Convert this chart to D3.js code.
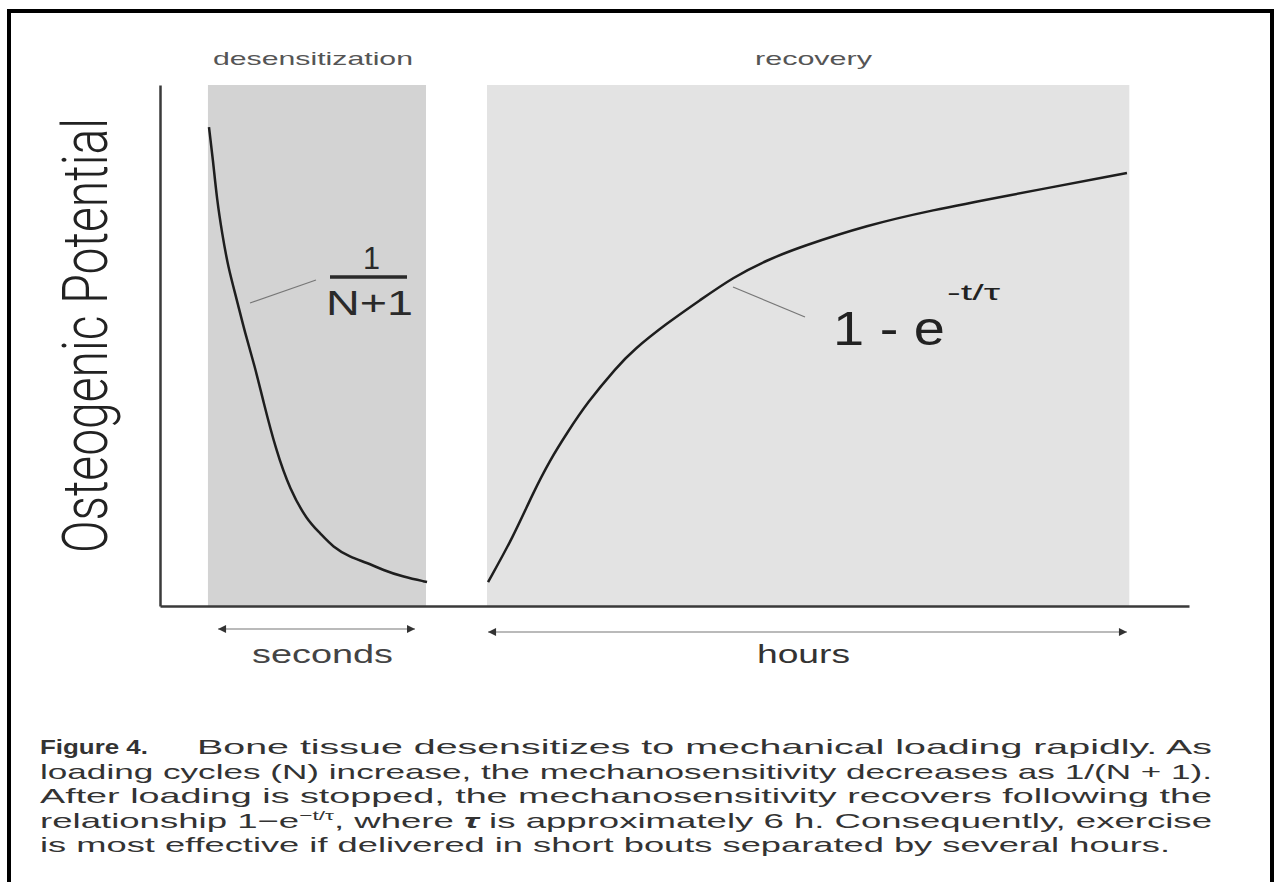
<!DOCTYPE html>
<html>
<head>
<meta charset="utf-8">
<script src="https://cdn.jsdelivr.net/npm/d3@7"></script>
<style>
  body { margin: 0; background: #fff; }
  svg { display: block; }
</style>
</head>
<body>
<div id="chart"></div>
<script>
// phases along the time axis (arbitrary units 0-100, no ticks in the figure)
const phases = ["desensitization", "recovery"]
const phaseStart = [4.66, 31.78]
const phaseEnd = [25.85, 94.2]
const phaseUnits = ["seconds", "hours"]
const arrowStart = [5.64, 31.88]
const arrowEnd = [24.78, 93.97]

// osteogenic potential while loading: 1/(N+1)
const desensT = [4.76, 5.15, 5.54, 6.03, 6.61, 7.48, 8.26, 9.23, 10.01, 11.27, 12.63, 14.29, 15.55, 16.81, 18.46, 20.12, 21.67, 23.62, 25.95]
const desensP = [91.9, 85.6, 77.9, 71.6, 65.1, 58.7, 52.4, 45.9, 39.5, 29.9, 22.3, 16.5, 14.0, 11.3, 9.4, 8.3, 6.9, 5.6, 4.6]

// recovery after loading stops: 1 - e^(-t/tau)
const recoveryT = [31.88, 34.31, 36.25, 37.9, 39.55, 41.5, 44.41, 45.97, 49.27, 52.48, 55.69, 58.99, 62.2, 68.71, 75.12, 81.63, 93.97]
const recoveryP = [4.6, 13.2, 21.7, 28.0, 33.2, 39.0, 45.9, 49.1, 54.3, 58.7, 63.1, 66.4, 68.9, 73.1, 76.0, 78.5, 83.1]

const yTitle = "Osteogenic Potential"
const captionLines = [
  "Bone tissue desensitizes to mechanical loading rapidly. As",
  "loading cycles (N) increase, the mechanosensitivity decreases as 1/(N + 1).",
  "After loading is stopped, the mechanosensitivity recovers following the",
  ["relationship 1\u2212e", "\u2212t/τ", ", where ", "τ", " is approximately 6 h. Consequently, exercise"],
  "is most effective if delivered in short bouts separated by several hours."
]

const W = 1274, H = 882
const bandFill = ["#d3d3d3", "#e3e3e3"]

const svg = d3.select("#chart").append("svg")
  .attr("width", W)
  .attr("height", H)

const x = d3.scaleLinear().domain([0, 100]).range([160, 1189])
const y = d3.scaleLinear().domain([0, 100]).range([606, 85])

// frame around the figure
svg.append("path")
  .attr("d", "M9," + H + "V11H1272V" + H)
  .attr("fill", "none")
  .attr("stroke", "#000")
  .attr("stroke-width", 4)

// helper for stretched text (the source figure is scaled horizontally)
function txt(g, s, px, py, size, len, opt) {
  opt = opt || {}
  return g.append("text")
    .attr("x", px)
    .attr("y", py)
    .attr("font-family", opt.family || "'Liberation Sans', Arial, sans-serif")
    .attr("font-size", size)
    .attr("font-weight", opt.weight || "normal")
    .attr("fill", opt.fill || "#222")
    .attr("textLength", len)
    .attr("lengthAdjust", "spacingAndGlyphs")
    .text(s)
}

// shaded phases
svg.append("g")
  .selectAll("rect")
  .data(phases)
  .join("rect")
  .attr("x", (d, i) => x(phaseStart[i]))
  .attr("width", (d, i) => x(phaseEnd[i]) - x(phaseStart[i]))
  .attr("y", y(100))
  .attr("height", y(0) - y(100))
  .attr("fill", (d, i) => bandFill[i])

// axes, no ticks
svg.append("g")
  .attr("transform", "translate(0," + y(0) + ")")
  .call(d3.axisBottom(x).ticks(0).tickSizeOuter(0))
svg.append("g")
  .attr("transform", "translate(" + x(0) + ",0)")
  .call(d3.axisLeft(y).ticks(0).tickSizeOuter(0))
svg.selectAll(".domain")
  .attr("stroke", "#3a3a3a")
  .attr("stroke-width", 2.5)

// curves
const line = d3.line()
  .x(d => x(d[0]))
  .y(d => y(d[1]))
  .curve(d3.curveBasis)

svg.append("path")
  .datum(d3.zip(desensT, desensP))
  .attr("d", line)
  .attr("fill", "none")
  .attr("stroke", "#1e1e1e")
  .attr("stroke-width", 2.5)

svg.append("path")
  .datum(d3.zip(recoveryT, recoveryP))
  .attr("d", line)
  .attr("fill", "none")
  .attr("stroke", "#1e1e1e")
  .attr("stroke-width", 2.5)

// phase names on top
txt(svg, phases[0], 213, 65, 19, 200, {fill: "#555"})
txt(svg, phases[1], 755, 65, 19, 117, {fill: "#555"})

// time-scale arrows
svg.append("defs").append("marker")
  .attr("id", "head")
  .attr("viewBox", "0 0 10 10")
  .attr("refX", 10)
  .attr("refY", 5)
  .attr("markerUnits", "userSpaceOnUse")
  .attr("markerWidth", 13)
  .attr("markerHeight", 8)
  .attr("orient", "auto-start-reverse")
  .append("path")
  .attr("d", "M0,0L10,5L0,10z")
  .attr("fill", "#333")

const arrowY = [629, 632]
svg.append("g")
  .selectAll("line")
  .data(phaseUnits)
  .join("line")
  .attr("x1", (d, i) => x(arrowStart[i]))
  .attr("x2", (d, i) => x(arrowEnd[i]))
  .attr("y1", (d, i) => arrowY[i])
  .attr("y2", (d, i) => arrowY[i])
  .attr("stroke", "#777")
  .attr("stroke-width", 1.2)
  .attr("marker-start", "url(#head)")
  .attr("marker-end", "url(#head)")

txt(svg, phaseUnits[0], 252, 663, 25, 141, {fill: "#444"})
txt(svg, phaseUnits[1], 757, 663, 25, 93, {fill: "#333"})

// y title: natural length ~ fits, glyph height stretched
txt(svg, yTitle, 0, 0, 47, 435, {family: "Roboto, sans-serif", weight: 300, fill: "#222"})
  .attr("transform", "translate(107,553) rotate(-90) scale(1,1.32)")

// formula labels + leader lines
svg.append("line")
  .attr("x1", 250).attr("y1", 303).attr("x2", 316).attr("y2", 280)
  .attr("stroke", "#777").attr("stroke-width", 1.3)
txt(svg, "1", 363, 269, 31, 17, {fill: "#2a2a2a"})
svg.append("line")
  .attr("x1", 330).attr("x2", 407).attr("y1", 277).attr("y2", 277)
  .attr("stroke", "#2a2a2a").attr("stroke-width", 3.5)
txt(svg, "N+1", 326, 315, 35, 87, {fill: "#2a2a2a"})

svg.append("line")
  .attr("x1", 733).attr("y1", 287).attr("x2", 805).attr("y2", 317)
  .attr("stroke", "#777").attr("stroke-width", 1.3)
txt(svg, "1 - e", 833, 345, 48, 112, {fill: "#222"})
txt(svg, "-t/τ", 947, 300, 22, 53, {fill: "#222"})

// caption
const cap = svg.append("g")
const capFont = {family: "'Liberation Sans', Arial, sans-serif", fill: "#333"}
const capSize = 21
const base = [754, 778.5, 803, 827.5, 852]
txt(cap, "Figure 4.", 40, base[0], capSize, 108, {family: capFont.family, fill: "#333", weight: "bold"})
txt(cap, captionLines[0], 197, base[0], capSize, 1015, capFont)
txt(cap, captionLines[1], 40, base[1], capSize, 1172, capFont)
txt(cap, captionLines[2], 40, base[2], capSize, 1172, capFont)

// line with superscript, one text element so it is spread evenly
const l4 = txt(cap, "", 40, base[3], capSize, 1172, capFont)
const seg = captionLines[3]
l4.append("tspan").text(seg[0])
l4.append("tspan").attr("font-size", 13).attr("dy", -8).text(seg[1])
l4.append("tspan").attr("dy", 8).text(seg[2])
l4.append("tspan").attr("font-style", "italic").attr("font-weight", "bold").text(seg[3])
l4.append("tspan").text(seg[4])

txt(cap, captionLines[4], 40, base[4], capSize, 1130, capFont)
</script>
</body>
</html>
